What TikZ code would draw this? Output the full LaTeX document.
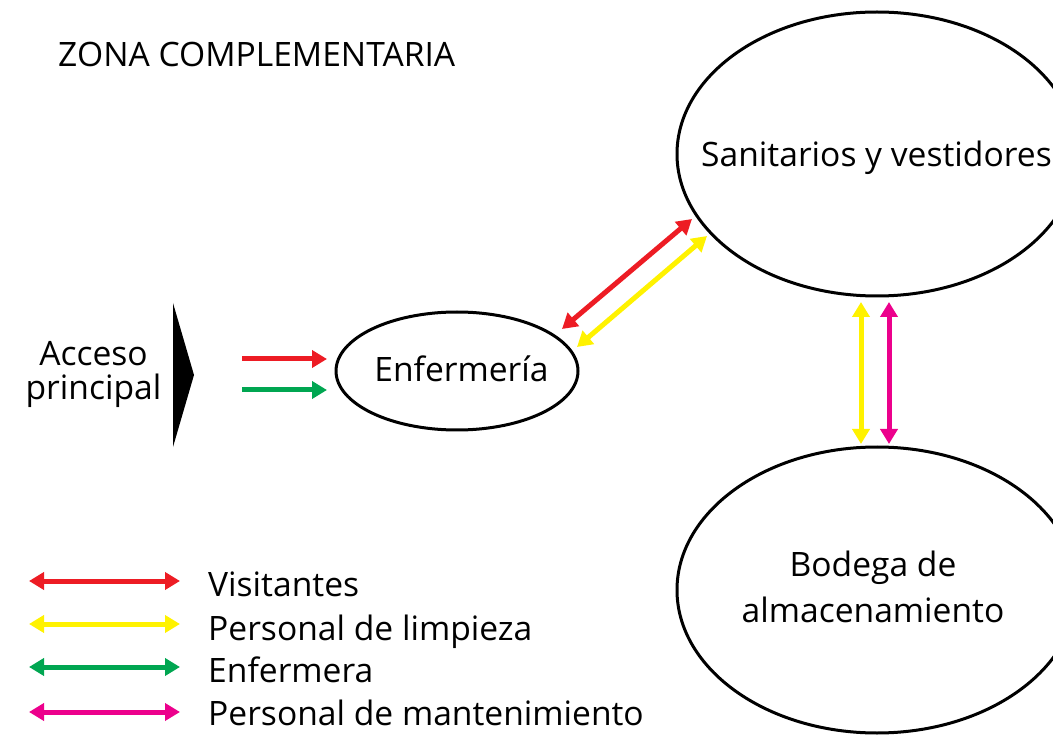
\documentclass[tikz,border=0pt]{standalone}
\usepackage{fontspec}
\setmainfont{Open Sans}
\usetikzlibrary{shapes.geometric,arrows.meta}
\definecolor{cred}{HTML}{ED1C24}
\definecolor{cyellow}{HTML}{FFF200}
\definecolor{cgreen}{HTML}{00A651}
\definecolor{cmag}{HTML}{EC008C}
\begin{document}
\begin{tikzpicture}[x=1pt,y=-1pt,
  zone/.style={draw=black,line width=3pt,ellipse,inner sep=0pt},
  lbl/.style={inner sep=0pt,anchor=base,font=\fontsize{33.6}{37}\selectfont},
  flow/.style={line width=5pt,-{Triangle[width=17pt,length=15pt]}},
  bflow/.style={line width=5pt,{Triangle[width=17pt,length=15pt]}-{Triangle[width=17pt,length=15pt]}}]
\useasboundingbox (0,0) rectangle (1053,735);
\begin{scope}
\clip (0,0) rectangle (1053,735);
% title
\node[lbl,anchor=base west] (title) at (58,67) {ZONA COMPLEMENTARIA};
% access
\node[lbl,align=center,font=\fontsize{33.6}{35}\selectfont] (acceso) at (93.5,400) {Acceso\\principal};
\fill[black] (173,303) -- (194,375) -- (173,447) -- cycle;
\node[inner sep=0pt] (tri) at (183,375) {};
% ellipses
\node[zone,minimum width=242pt,minimum height=118pt] (enf) at (457,371) {};
\node[lbl] (enft) at (461.5,382) {Enfermería};
\node[zone,minimum width=400pt,minimum height=284pt] (san) at (877,154) {};
\node[lbl] (sant) at (876.5,167) {Sanitarios y vestidores};
\node[zone,minimum width=400pt,minimum height=286pt] (bod) at (877,590) {};
\node[lbl,align=center,font=\fontsize{33.6}{46}\selectfont] (bodt) at (873,622) {Bodega de\\almacenamiento};
\end{scope}
% entry arrows
\coordinate (r1) at (242,359); \coordinate (r2) at (327,359);
\coordinate (g1) at (242,390); \coordinate (g2) at (327,390);
\draw[flow,cred] (r1) -- (r2);
\draw[flow,cgreen] (g1) -- (g2);
% diagonal
\coordinate (dr1) at (562,329); \coordinate (dr2) at (692,219);
\coordinate (dy1) at (577,347); \coordinate (dy2) at (707,236);
\draw[bflow,cred] (dr1) -- (dr2);
\draw[bflow,cyellow] (dy1) -- (dy2);
% vertical
\coordinate (vy1) at (861,302); \coordinate (vy2) at (861,444);
\coordinate (vm1) at (889,302); \coordinate (vm2) at (889,444);
\draw[bflow,cyellow] (vy1) -- (vy2);
\draw[bflow,cmag] (vm1) -- (vm2);
% legend
\foreach \c/\y [count=\i] in {cred/581,cyellow/624,cgreen/667,cmag/712}{
  \coordinate (la\i) at (29,\y); \coordinate (lb\i) at (180,\y);
  \draw[bflow,\c] (la\i) -- (lb\i);
}
\node[lbl,anchor=base west] (l1) at (208,596) {Visitantes};
\node[lbl,anchor=base west] (l2) at (208,640) {Personal de limpieza};
\node[lbl,anchor=base west] (l3) at (208,682) {Enfermera};
\node[lbl,anchor=base west] (l4) at (208,725) {Personal de mantenimiento};
\end{tikzpicture}
\end{document}
